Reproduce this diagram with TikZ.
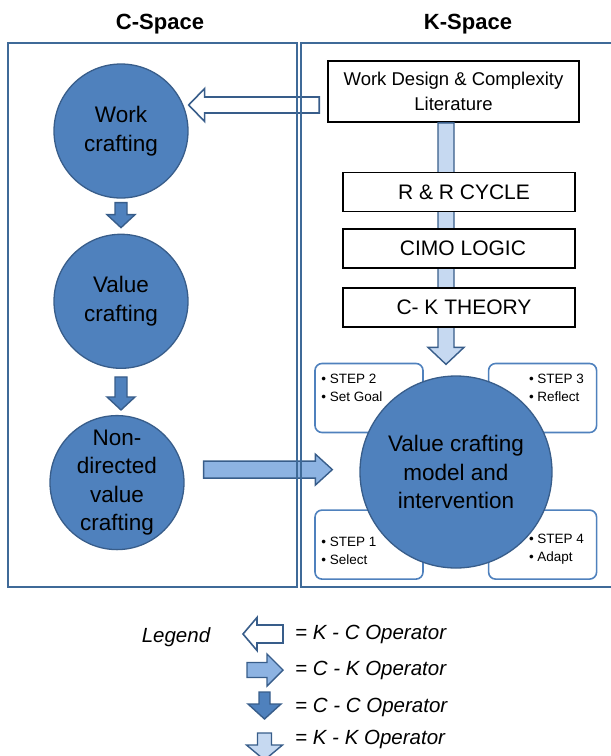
\documentclass[tikz,border=0pt]{standalone}
\usepackage{fontspec}
\setmainfont{Liberation Sans}
\usetikzlibrary{positioning}
\usetikzlibrary{calc}
\usepackage{xcolor}

\definecolor{framebl}{HTML}{3F6A98}
\definecolor{circfill}{HTML}{4F81BD}
\definecolor{circline}{HTML}{385D8A}
\definecolor{ckfill}{HTML}{8DB3E2}
\definecolor{kkfill}{HTML}{C6D9F1}

% block arrow: style, from, to, half shaft, half head, head length
\newcommand{\oparrow}[6]{%
  \coordinate (oa-h) at ($(#3)!#6!(#2)$);
  \draw[#1] ($(#2)!#4!90:(#3)$) -- ($(oa-h)!#4!90:(#3)$) -- ($(oa-h)!#5!90:(#3)$) -- (#3)
    -- ($(oa-h)!#5!-90:(#3)$) -- ($(oa-h)!#4!-90:(#3)$) -- ($(#2)!#4!-90:(#3)$) -- cycle;}

\begin{document}
\begin{tikzpicture}[x=1pt,y=1pt]
		\tikzstyle{frame} = [rectangle, minimum width=289pt, minimum height=544pt]
		\tikzstyle{frameline} = [draw=framebl, line width=2pt]
		\tikzstyle{title} = [inner sep=0pt, font=\fontsize{22}{26}\selectfont\bfseries]
		\tikzstyle{crafting} = [circle, draw=circline, line width=1.3pt, fill=circfill,
		minimum size=134pt, inner sep=0pt, align=center, font=\fontsize{22.5}{28.5}\selectfont]
		\tikzstyle{block} = [rectangle, draw, line width=1.6pt, fill=white,
		minimum width=232pt, minimum height=39pt, font=\fontsize{21}{25}\selectfont]
		\tikzstyle{stepbox} = [rectangle, draw=circfill, line width=1.6pt, fill=white,
		rounded corners=7pt, minimum width=108pt, minimum height=69pt]
		\tikzstyle{steptext} = [inner sep=0pt, align=left, font=\fontsize{13.5}{18}\selectfont]
		\tikzstyle{legtext} = [inner sep=0pt, font=\fontsize{20.5}{25}\selectfont\itshape]
		\tikzstyle{kcop} = [draw=circline, line width=1.6pt, fill=white]
		\tikzstyle{ckop} = [draw=circline, line width=1.4pt, fill=ckfill]
		\tikzstyle{ccop} = [draw=circline, line width=1.4pt, fill=circfill]
		\tikzstyle{kkop} = [draw=circline, line width=1.4pt, fill=kkfill]

		\useasboundingbox (0,0) rectangle (611,-756);

		% C-Space
		\node [frame] (cs) at (152.5,-315) {};
		\node [title, above=9pt of cs.north, xshift=7.5pt] (cst) {C-Space};
		
		% K-Space
		\node [frame, minimum width=334pt] (ks) at (468,-315) {};
		\node [title, above=9pt of ks.north] (kst) {K-Space};
		
		% crafting circles
		\node [crafting] (wc) at (121,-131) {Work\\crafting};
		\node [crafting, below=35pt of wc] (vc) {Value\\crafting};
		\node [crafting, below=46pt of vc, xshift=-4pt] (nd) {Non-\\directed\\value\\crafting};
		
		% Literature
		\node [block, minimum width=251pt, minimum height=61pt, align=center,
		font=\fontsize{18.5}{25}\selectfont] (wdl) at (453.5,-91.5) {Work Design \& Complexity\\Literature};
		
		% Steps
		\node [stepbox] (s2) at (369,-398) {};
		\node [stepbox, right=64pt of s2] (s3) {};
		\node [stepbox, below=76pt of s2] (s1) {};
		\node [stepbox, right=64pt of s1] (s4) {};
		\node [steptext, anchor=north west] (s2t) at ([xshift=7pt,yshift=-11pt]s2.north west) {• STEP 2\\• Set Goal};
		\node [steptext, anchor=north west] (s3t) at ([xshift=41pt,yshift=-11pt]s3.north west) {• STEP 3\\• Reflect};
		\node [steptext, anchor=south west] (s1t) at ([xshift=7pt,yshift=15pt]s1.south west) {• STEP 1\\• Select};
		\node [steptext, anchor=south west] (s4t) at ([xshift=41pt,yshift=15pt]s4.south west) {• STEP 4\\• Adapt};
		
		% Model
		\node [crafting, minimum size=192pt] (vcm) at (456,-472) {Value crafting\\model and\\intervention};
		
		% K-K operator
		\coordinate (kks) at ([xshift=-7.5pt]wdl.south);
		\coordinate (kke) at ($(kks |- vcm.north)+(0,11)$);
		\oparrow{kkop}{kks}{kke}{8pt}{18pt}{17pt}
		
		% Theories
		\node [block, below=49pt of wdl, xshift=5.5pt] (rr) {\hspace{10pt}R \& R CYCLE};
		\node [block, below=16pt of rr] (cimo) {\hspace{8pt}CIMO LOGIC};
		\node [block, below=18pt of cimo] (ckt) {\hspace{10pt}C- K THEORY};
		
		% arrows
		\coordinate (kcs) at ([xshift=-8pt,yshift=-13.5pt]wdl.west);
		\coordinate (kce) at (kcs -| wc.east);
		\oparrow{kcop}{kcs}{kce}{8pt}{16.5pt}{16pt}
		%
		\coordinate (cc1s) at ([yshift=-4pt]wc.south);
		\coordinate (cc1e) at ([yshift=6pt]vc.north);
		\oparrow{ccop}{cc1s}{cc1e}{6pt}{14pt}{13pt}
		\coordinate (cc2s) at ([yshift=-8pt]vc.south);
		\coordinate (cc2e) at ($(cc2s |- nd.north)+(0,5)$);
		\oparrow{ccop}{cc2s}{cc2e}{6pt}{14pt}{13pt}
		%
		\coordinate (cks) at ([xshift=19pt,yshift=13pt]nd.east);
		\coordinate (cke) at ($(cks -| vcm.west)+(-27,0)$);
		\oparrow{ckop}{cks}{cke}{8.5pt}{15.5pt}{17pt}
		
		% frames on top
		\draw [frameline] (cs.south west) rectangle (cs.north east);
		\draw [frameline] (ks.south west) rectangle (ks.north east);
		
		% Legend
		\node [legtext] (leg) at (176,-637) {Legend};
		\node [legtext, anchor=west] (lkc) at (295,-634) {= K - C Operator};
		\node [legtext, anchor=west] (lck) at (295,-670) {= C - K Operator};
		\node [legtext, anchor=west] (lcc) at (295,-707) {= C - C Operator};
		\node [legtext, anchor=west] (lkk) at (295,-739) {= K - K Operator};
		\coordinate (l1a) at (283,-634);
		\coordinate (l1b) at (243,-634);
		\oparrow{kcop}{l1a}{l1b}{9pt}{16.5pt}{14pt}
		\coordinate (l2a) at (247,-670);
		\coordinate (l2b) at (283,-670);
		\oparrow{ckop}{l2a}{l2b}{7.5pt}{16pt}{16pt}
		\coordinate (l3a) at (264.5,-692);
		\coordinate (l3b) at (264.5,-719);
		\oparrow{ccop}{l3a}{l3b}{5.5pt}{16.5pt}{15pt}
		\coordinate (l4a) at (264.5,-733);
		\coordinate (l4b) at (264.5,-760);
		\oparrow{kkop}{l4a}{l4b}{7pt}{18pt}{15pt}
		
	\end{tikzpicture}
\end{document}
